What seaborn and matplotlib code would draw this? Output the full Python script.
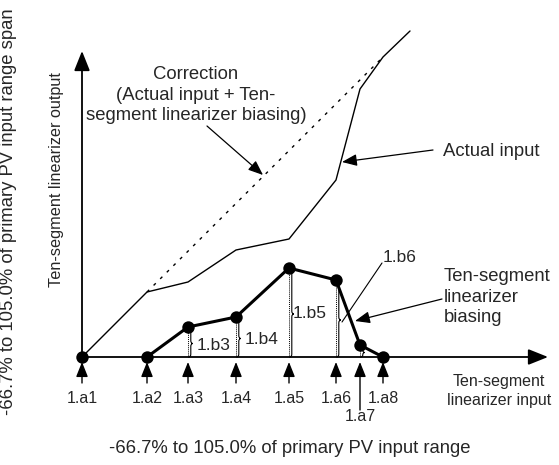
import matplotlib
matplotlib.use("Agg")
import matplotlib.pyplot as plt
from matplotlib.path import Path
from matplotlib.patches import PathPatch
import seaborn as sns
import pandas as pd

sns.set_theme(style="white")
plt.rcParams['font.family'] = ['Liberation Sans', 'DejaVu Sans']

# ---- data (diagram units; origin = breakpoint 1.a1 on the axis) ----
break_labels = ["1.a1", "1.a2", "1.a3", "1.a4", "1.a5", "1.a6", "1.a7", "1.a8"]
break_x = [0, 65, 106, 154, 207, 254, 278, 301]
bias_y = [0, 0, 30, 40, 89, 77, 12, 0]
bias_labels = ["", "", "1.b3", "1.b4", "1.b5", "1.b6", "", ""]
actual_x = [0, 65, 106, 154, 207, 254, 278, 301, 328]
actual_y = [0, 65, 75, 107, 118, 177, 268, 300, 326]
correction_x = [65, 301]
correction_y = [65, 300]

fig = plt.figure(figsize=(5.59, 4.65), dpi=100)
ax = fig.add_axes([0, 0, 1, 1])
ax.set_xlim(-82, 477)
ax.set_ylim(-108, 357)
ax.axis("off")

FS = 13.3

# axes with arrows
arrow_kw = dict(arrowstyle='-|>,head_length=0.55,head_width=0.22', lw=1.3,
                color='black', mutation_scale=22, shrinkA=0, shrinkB=0)
ax.annotate("", xy=(0, 306), xytext=(0, 0), arrowprops=arrow_kw)
ax.annotate("", xy=(466, 0), xytext=(0, 0), arrowprops=arrow_kw)

# actual input
df_act = pd.DataFrame({"x": actual_x, "y": actual_y})
sns.lineplot(data=df_act, x="x", y="y", ax=ax, color="black", lw=1.0, sort=False)

# correction (dotted)
df_cor = pd.DataFrame({"x": correction_x, "y": correction_y})
sns.lineplot(data=df_cor, x="x", y="y", ax=ax, color="black", lw=1.0,
             linestyle=(0, (2.2, 4.5)), sort=False)

# bias line
df_b = pd.DataFrame({"x": break_x, "y": bias_y})
sns.lineplot(data=df_b.iloc[1:], x="x", y="y", ax=ax, color="black", lw=2.2, sort=False)
sns.scatterplot(data=df_b, x="x", y="y", ax=ax, color="black", s=80, zorder=5,
                edgecolor="black", linewidth=0)

# dotted drop lines and braces
def brace(x, y0, y1, w=4.0):
    h = y1 - y0
    r = min(3.0, h / 4.0)
    ym = (y0 + y1) / 2.0
    xm = x + w / 2.0
    verts = [(x, y0), (xm, y0), (xm, y0 + r),
             (xm, ym - r), (xm, ym), (x + w, ym),
             (xm, ym), (xm, ym + r),
             (xm, y1 - r), (xm, y1), (x, y1)]
    codes = [Path.MOVETO, Path.CURVE3, Path.CURVE3,
             Path.LINETO, Path.CURVE3, Path.CURVE3,
             Path.CURVE3, Path.CURVE3,
             Path.LINETO, Path.CURVE3, Path.CURVE3]
    ax.add_patch(PathPatch(Path(verts, codes), fill=False, lw=0.8, ec="black"))

for xi, yi in zip(break_x[2:7], bias_y[2:7]):
    ax.plot([xi, xi], [0, yi - 3], color="black", lw=0.7, linestyle=(0, (1, 1)))
    brace(xi + 0.8, 0, yi - 3)

# bias labels
ax.text(115, 12, "1.b3", fontsize=12.5, ha="left", va="center")
ax.text(163, 18, "1.b4", fontsize=12.5, ha="left", va="center")
ax.text(211, 43, "1.b5", fontsize=12.5, ha="left", va="center")
ax.text(301, 100, "1.b6", fontsize=12.5, ha="left", va="center")
ax.plot([300, 260], [94, 35], color="black", lw=0.8)

# breakpoint arrows and labels
small_arrow = dict(arrowstyle='-|>,head_length=0.5,head_width=0.2', lw=1.0,
                   color='black', mutation_scale=18, shrinkA=0, shrinkB=0)
for lab, xi in zip(break_labels, break_x):
    if lab == "1.a7":
        ax.annotate("", xy=(xi, -5), xytext=(xi, -53), arrowprops=small_arrow)
        ax.text(xi, -59, lab, fontsize=11.5, ha="center", va="center")
    else:
        ax.annotate("", xy=(xi, -5), xytext=(xi, -26), arrowprops=small_arrow)
        ax.text(xi, -41, lab, fontsize=11.5, ha="center", va="center")

# annotations
ann_arrow = dict(arrowstyle='-|>,head_length=0.5,head_width=0.2', lw=0.9,
                 color='black', mutation_scale=18, shrinkA=0, shrinkB=0)
ax.text(114, 262, "Correction\n(Actual input + Ten-\nsegment linearizer biasing)",
        fontsize=FS, ha="center", va="center", linespacing=1.25)
ax.annotate("", xy=(181, 182), xytext=(125, 231), arrowprops=ann_arrow)

ax.text(361, 205, "Actual input", fontsize=FS, ha="left", va="center")
ax.annotate("", xy=(260, 195), xytext=(351, 207), arrowprops=ann_arrow)

ax.text(362, 60, "Ten-segment\nlinearizer\nbiasing", fontsize=FS, ha="left",
        va="center", linespacing=1.3)
ax.annotate("", xy=(273, 36), xytext=(360, 58), arrowprops=ann_arrow)

ax.text(417, -34, "Ten-segment\nlinearizer input", fontsize=11.5, ha="center",
        va="center", linespacing=1.35)

ax.text(208, -91, "-66.7% to 105.0% of primary PV input range", fontsize=FS,
        ha="center", va="center")
ax.text(-73, 145, "-66.7% to 105.0% of primary PV input range span", fontsize=FS,
        ha="center", va="center", rotation=90)
ax.text(-25, 177, "Ten-segment linearizer output", fontsize=11.7,
        ha="center", va="center", rotation=90)

fig.savefig("out.png", dpi=100)
